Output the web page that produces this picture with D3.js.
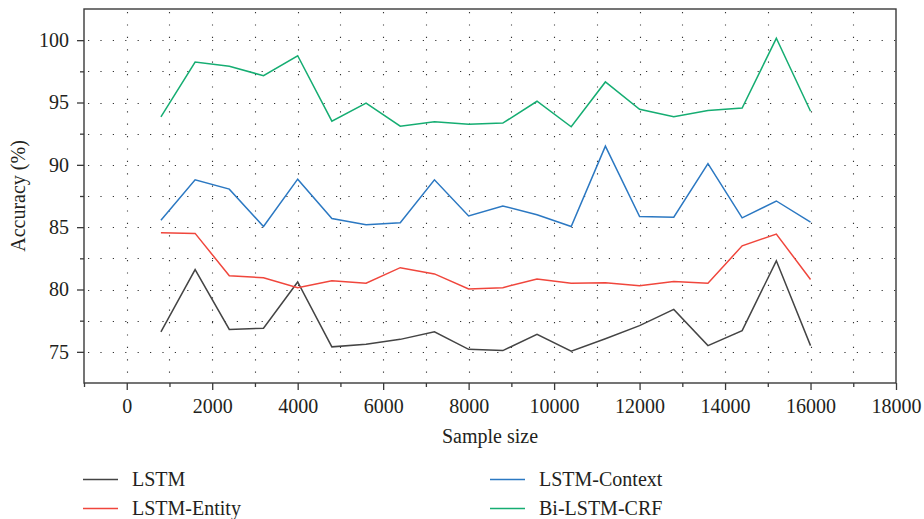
<!DOCTYPE html>
<html>
<head>
<meta charset="utf-8">
<script src="https://cdn.jsdelivr.net/npm/d3@7"></script>
<style>
  body { margin: 0; background: #fff; }
  #chart text { font-family: "Liberation Serif", Tinos, "Times New Roman", serif !important; font-size: 20px; }
</style>
</head>
<body>
<svg id="chart" width="924" height="519"></svg>
<script>
// sample sizes on the x axis
var sampleSizes = [800, 1600, 2400, 3200, 4000, 4800, 5600, 6400, 7200, 8000,
                   8800, 9600, 10400, 11200, 12000, 12800, 13600, 14400, 15200, 16000];

var lstm       = [76.6, 81.6, 76.8, 76.9, 80.6, 75.4, 75.6, 76.0, 76.6, 75.2,
                  75.1, 76.4, 75.05, 76.05, 77.1, 78.4, 75.5, 76.7, 82.3, 75.5];
var lstmEntity = [84.55, 84.5, 81.1, 80.95, 80.15, 80.7, 80.5, 81.75, 81.25, 80.05,
                  80.15, 80.85, 80.5, 80.55, 80.3, 80.65, 80.5, 83.5, 84.45, 80.8];
var lstmContext = [85.55, 88.8, 88.05, 85.05, 88.85, 85.7, 85.2, 85.35, 88.8, 85.9,
                   86.7, 86.0, 85.05, 91.5, 85.85, 85.8, 90.1, 85.75, 87.1, 85.4];
var biLstmCrf  = [93.85, 98.25, 97.9, 97.15, 98.75, 93.5, 94.95, 93.1, 93.45, 93.25,
                  93.35, 95.1, 93.05, 96.65, 94.45, 93.85, 94.35, 94.55, 100.15, 94.3];

var seriesNames = ["LSTM", "LSTM-Entity", "LSTM-Context", "Bi-LSTM-CRF"];
var seriesColors = ["#444444", "#f0463c", "#2b78c2", "#15ad72"];
var seriesValues = [lstm, lstmEntity, lstmContext, biLstmCrf];

var xTicks = d3.range(0, 18001, 2000);
var yTicks = [75, 80, 85, 90, 95, 100];

var svg = d3.select("#chart").attr("font-family", "Liberation Serif");
var plotLeft = 84, plotRight = 896, plotTop = 9, plotBottom = 383;

var x = d3.scaleLinear().domain([-1000, 18000]).range([plotLeft, plotRight]);
var y = d3.scaleLinear().domain([72.5, 102.5]).range([plotBottom, plotTop]);

// dotted grid
var grid = svg.append("g").attr("stroke", "#333").attr("stroke-width", 1.1)
    .attr("stroke-dasharray", "1.2 11.2");
grid.selectAll("line.gx")
    .data(d3.range(0, 17001, 1000))
    .enter().append("line")
    .attr("x1", d => Math.round(x(d)) + 0.5).attr("x2", d => Math.round(x(d)) + 0.5)
    .attr("y1", plotTop + 3).attr("y2", plotBottom);
grid.selectAll("line.gy")
    .data(d3.range(75, 100.1, 2.5))
    .enter().append("line")
    .attr("y1", d => Math.round(y(d)) + 0.5).attr("y2", d => Math.round(y(d)) + 0.5)
    .attr("x1", plotLeft + 4).attr("x2", plotRight);

// frame
svg.append("rect")
    .attr("x", plotLeft).attr("y", plotTop)
    .attr("width", plotRight - plotLeft).attr("height", plotBottom - plotTop)
    .attr("fill", "none").attr("stroke", "#3a3a3a").attr("stroke-width", 1.4);

// x axis, major and minor ticks
var xMinor = svg.append("g").attr("transform", "translate(0," + plotBottom + ")")
    .call(d3.axisBottom(x).tickValues(d3.range(-1000, 18001, 1000).filter(d => d % 2000 != 0))
    .tickSize(4).tickFormat(""));
xMinor.select(".domain").remove();
var xMajor = svg.append("g").attr("transform", "translate(0," + plotBottom + ")")
    .call(d3.axisBottom(x).tickValues(xTicks).tickSize(7).tickPadding(9).tickFormat(d3.format("d")));
xMajor.select(".domain").remove();

// y axis
var yMinor = svg.append("g").attr("transform", "translate(" + plotLeft + ",0)")
    .call(d3.axisLeft(y).tickValues([77.5, 82.5, 87.5, 92.5, 97.5]).tickSize(4).tickFormat(""));
yMinor.select(".domain").remove();
var yMajor = svg.append("g").attr("transform", "translate(" + plotLeft + ",0)")
    .call(d3.axisLeft(y).tickValues(yTicks).tickSize(7).tickPadding(8));
yMajor.select(".domain").remove();
svg.selectAll("g.tick line").attr("stroke", "#3a3a3a").attr("stroke-width", 1.3);
// drop the axes' own sans-serif setting
svg.selectAll("g").attr("font-family", null).attr("font-size", null);

// axis titles
svg.append("text")
    .attr("x", (plotLeft + plotRight) / 2).attr("y", 443)
    .attr("text-anchor", "middle")
    .text("Sample size");
svg.append("text")
    .attr("transform", "translate(25," + ((plotTop + plotBottom) / 2) + ") rotate(-90)")
    .attr("text-anchor", "middle")
    .text("Accuracy (%)");

// series lines
var line = d3.line()
    .x((d, i) => x(sampleSizes[i]))
    .y(d => y(d));
svg.append("g").selectAll("path")
    .data(seriesValues)
    .enter().append("path")
    .attr("d", line)
    .attr("fill", "none")
    .attr("stroke", (d, i) => seriesColors[i])
    .attr("stroke-width", 1.5);

// legend
var legendPos = [[83, 479], [83, 508], [490, 479], [490, 508]];
var legend = svg.append("g").selectAll("g")
    .data(seriesNames)
    .enter().append("g")
    .attr("transform", (d, i) => "translate(" + legendPos[i][0] + "," + legendPos[i][1] + ")");
legend.append("line")
    .attr("x1", 0).attr("x2", 35).attr("y1", 0.5).attr("y2", 0.5)
    .attr("stroke", (d, i) => seriesColors[i]).attr("stroke-width", 1.5);
legend.append("text")
    .attr("x", 49).attr("y", 7)
    .text(d => d);

svg.selectAll("text").attr("fill", "#231f20");
</script>
</body>
</html>
